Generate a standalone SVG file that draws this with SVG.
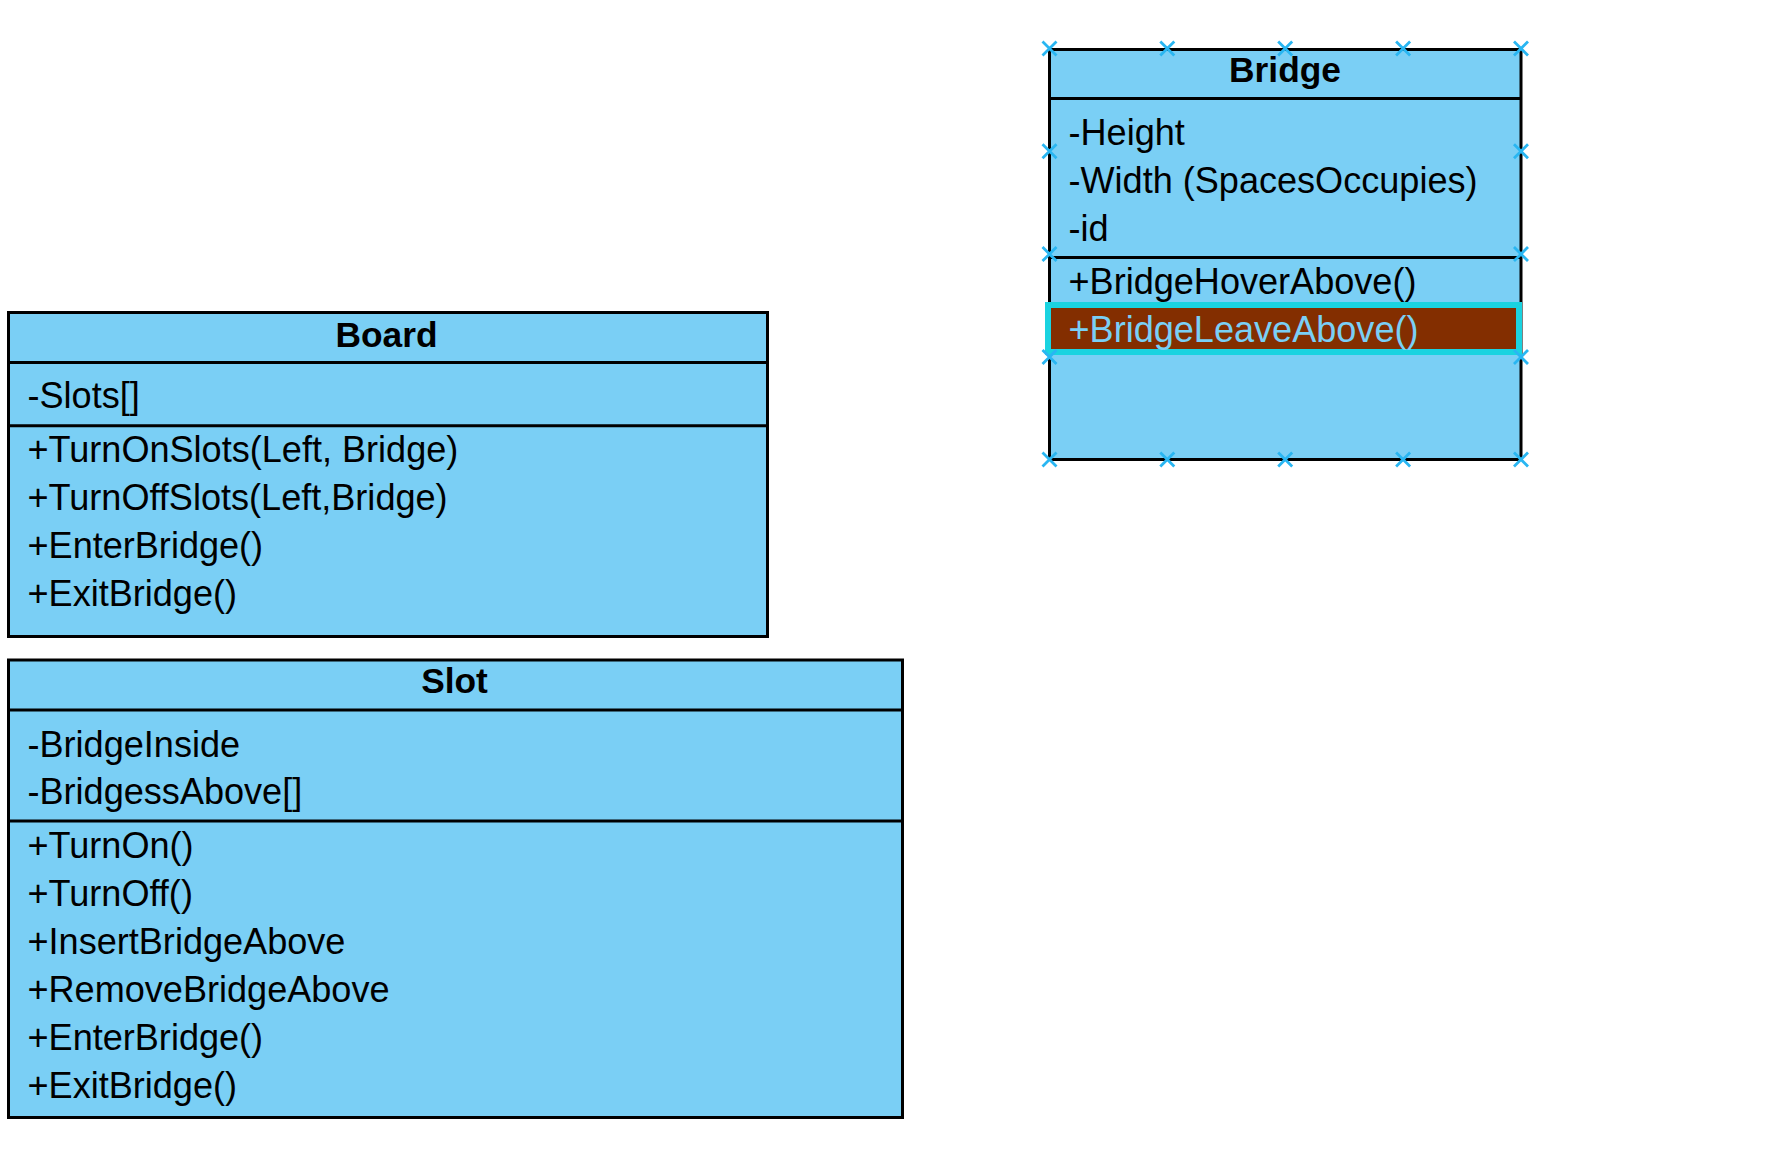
<svg xmlns="http://www.w3.org/2000/svg" xmlns:xlink="http://www.w3.org/1999/xlink" width="1767" height="1160" viewBox="0 0 1767 1160">
<style>
.box{fill:#7acff5;stroke:#000;stroke-width:3}
.div{stroke:#000;stroke-width:3;fill:none}
.t{font-family:"Liberation Sans",Arial,sans-serif;font-size:36.1px;fill:#000}
.h{font-family:"Liberation Sans",Arial,sans-serif;font-size:35.3px;font-weight:bold;fill:#000;text-anchor:middle}
.sel{fill:#832e00;stroke:#1ad3e0;stroke-width:6}
.selt{fill:#7acff5}
.mk{stroke:#29b6f2;stroke-width:2.8;fill:none}
</style>
<defs>
<path id="x" class="mk" d="M-7,-7L7,7M-7,7L7,-7"/>
</defs>
<rect width="1767" height="1160" fill="#fff"/>
<g id="connectors"></g>
<g id="node-board">
<rect class="box" x="8.5" y="312.5" width="759" height="324"/>
<line class="div" x1="8.5" y1="362.5" x2="767.5" y2="362.5"/>
<line class="div" x1="8.5" y1="425.7" x2="767.5" y2="425.7"/>
<text class="h" x="386.5" y="346.5">Board</text>
<text class="t" x="27.5" y="407.5">-Slots[]</text>
<text class="t" x="27.5" y="462">+TurnOnSlots(Left, Bridge)</text>
<text class="t" x="27.5" y="509.5">+TurnOffSlots(Left,Bridge)</text>
<text class="t" x="27.5" y="557.5">+EnterBridge()</text>
<text class="t" x="27.5" y="605.5">+ExitBridge()</text>
</g>
<g id="node-slot">
<rect class="box" x="8.5" y="660" width="894" height="457.5"/>
<line class="div" x1="8.5" y1="710" x2="902.5" y2="710"/>
<line class="div" x1="8.5" y1="821" x2="902.5" y2="821"/>
<text class="h" x="454.5" y="692.5">Slot</text>
<text class="t" x="27.5" y="756.5">-BridgeInside</text>
<text class="t" x="27.5" y="804">-BridgessAbove[]</text>
<text class="t" x="27.5" y="857.5">+TurnOn()</text>
<text class="t" x="27.5" y="905.5">+TurnOff()</text>
<text class="t" x="27.5" y="953.5">+InsertBridgeAbove</text>
<text class="t" x="27.5" y="1001.5">+RemoveBridgeAbove</text>
<text class="t" x="27.5" y="1049.5">+EnterBridge()</text>
<text class="t" x="27.5" y="1097.5">+ExitBridge()</text>
</g>
<g id="node-bridge">
<rect class="box" x="1049.5" y="49.5" width="471.5" height="410"/>
<line class="div" x1="1049.5" y1="98.5" x2="1521" y2="98.5"/>
<line class="div" x1="1049.5" y1="257.5" x2="1521" y2="257.5"/>
<text class="h" x="1285" y="81.5">Bridge</text>
<text class="t" x="1068.5" y="144.5">-Height</text>
<text class="t" x="1068.5" y="192.5">-Width (SpacesOccupies)</text>
<text class="t" x="1068.5" y="240.5">-id</text>
<text class="t" x="1068.5" y="293.5">+BridgeHoverAbove()</text>
<rect class="sel" x="1048" y="305" width="471" height="47"/>
<text class="t selt" x="1068.5" y="342">+BridgeLeaveAbove()</text>
<g id="bridge-handles">
<use xlink:href="#x" x="1049.5" y="48.5"/>
<use xlink:href="#x" x="1167.3" y="48.5"/>
<use xlink:href="#x" x="1285.2" y="48.5"/>
<use xlink:href="#x" x="1403.1" y="48.5"/>
<use xlink:href="#x" x="1521" y="48.5"/>
<use xlink:href="#x" x="1049.5" y="459.5"/>
<use xlink:href="#x" x="1167.3" y="459.5"/>
<use xlink:href="#x" x="1285.2" y="459.5"/>
<use xlink:href="#x" x="1403.1" y="459.5"/>
<use xlink:href="#x" x="1521" y="459.5"/>
<use xlink:href="#x" x="1049.5" y="151.2"/>
<use xlink:href="#x" x="1049.5" y="254.1"/>
<use xlink:href="#x" x="1049.5" y="357"/>
<use xlink:href="#x" x="1521" y="151.2"/>
<use xlink:href="#x" x="1521" y="254.1"/>
<use xlink:href="#x" x="1521" y="357"/>
</g>
</g>
</svg>
